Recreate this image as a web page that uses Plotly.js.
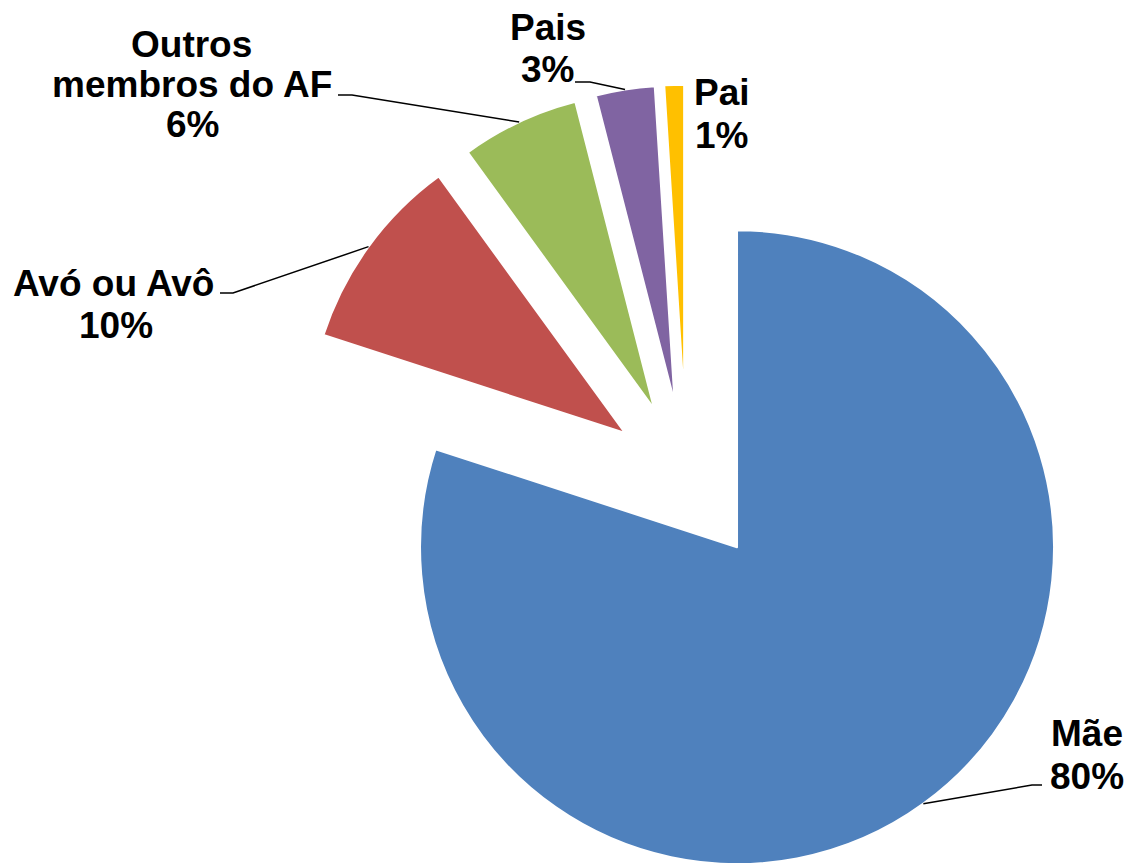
<!DOCTYPE html>
<html>
<head>
<meta charset="utf-8">
<script src="https://cdn.plot.ly/plotly-3.0.1.min.js"></script>
<style>
html,body{margin:0;padding:0;overflow:hidden;background:#fff;}
#chart{width:1130px;height:900px;}
</style>
</head>
<body>
<div id="chart"></div>
<script>
// ---- data ----
var categories = ['Mãe', 'Avó ou Avô', 'Outros membros do AF', 'Pais', 'Pai'];
var values = [80, 10, 6, 3, 1];
var colors = ['#4F81BD', '#C0504D', '#9BBB59', '#8064A2', '#FFC000'];
var pulls = [0.271, 0.24, 0.24, 0.24, 0.24];

// ---- layout geometry (pixels) ----
var W = 1130, H = 900;
var domX = [0.2510, 0.9641], domY = [0, 0.93844];
// label line breaks and positions (pixel centres of each text line)
var labelLines = [
  ['Mãe'], ['Avó ou Avô'], ['Outros', 'membros do AF'], ['Pais'], ['Pai']
];
var labelPos = [
  [[1087, 733.5], [1087, 776.5]],
  [[113, 283.5], [116, 325]],
  [[191, 44.5], [192, 84], [192, 124]],
  [[548, 27.5], [547, 70]],
  [[722, 92.5], [721, 135.5]]
];
// leader line: label end, knee (null = no leader)
var leaders = [
  [[1042, 785], [1032, 785]],
  [[220, 293], [233, 293]],
  [[338, 95], [352, 95]],
  [[575, 82], [590, 82]],
  null
];

function px(x) { return x / W; }
function py(y) { return 1 - y / H; }

// pie geometry as plotly computes it
var maxPull = Math.max.apply(null, pulls);
var wDom = W * (domX[1] - domX[0]), hDom = H * (domY[1] - domY[0]);
var R = Math.min(wDom, hDom) / (2 + 2 * maxPull);
var cx = W * (domX[0] + domX[1]) / 2;
var cy = H * (2 - domY[1] - domY[0]) / 2;
var total = values.reduce(function (a, b) { return a + b; }, 0);

var annotations = [];
var shapes = [];
var cum = 0;
values.forEach(function (v, i) {
  var mid = (cum + v / 2) / total;
  cum += v;
  var th = mid * 2 * Math.PI;
  var dx = Math.sin(th), dy = -Math.cos(th);
  var ex = cx + (R + pulls[i] * R) * dx;
  var ey = cy + (R + pulls[i] * R) * dy;
  var pct = Math.round(v / total * 100) + '%';
  var lines = labelLines[i].concat([pct]);
  lines.forEach(function (t, k) {
    var p = labelPos[i][k];
    annotations.push({
      xref: 'paper', yref: 'paper', x: px(p[0]), y: py(p[1]),
      xanchor: 'center', yanchor: 'middle', showarrow: false,
      text: '<b>' + t + '</b>',
      font: { family: 'Liberation Sans, Arial, sans-serif', size: 37, color: '#000' }
    });
  });
  if (leaders[i]) {
    var a = leaders[i][0], b = leaders[i][1];
    shapes.push({
      type: 'path', xref: 'paper', yref: 'paper',
      path: 'M' + px(a[0]) + ',' + py(a[1]) + ' L' + px(b[0]) + ',' + py(b[1]) + ' L' + px(ex) + ',' + py(ey),
      line: { color: '#000', width: 1.5 }
    });
  }
});

var trace = {
  type: 'pie',
  labels: categories,
  values: values,
  sort: false,
  direction: 'clockwise',
  rotation: 0,
  pull: pulls,
  textinfo: 'none',
  hoverinfo: 'skip',
  marker: { colors: colors, line: { color: '#ffffff', width: 2 } },
  domain: { x: domX, y: domY }
};

var layout = {
  width: W, height: H,
  margin: { l: 0, r: 0, t: 0, b: 0, pad: 0 },
  showlegend: false,
  paper_bgcolor: '#ffffff',
  annotations: annotations,
  shapes: shapes
};

Plotly.newPlot('chart', [trace], layout, { staticPlot: true, displayModeBar: false });
</script>
</body>
</html>
